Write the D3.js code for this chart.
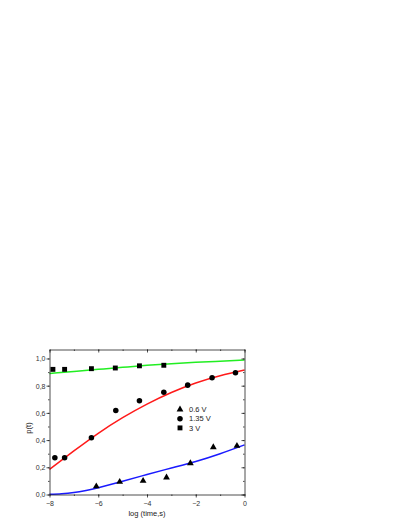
<!DOCTYPE html>
<html>
<head>
<meta charset="utf-8">
<script src="https://cdn.jsdelivr.net/npm/d3@7"></script>
<style>
  body { margin: 0; background: #fff; }
  svg text { font-family: "Liberation Sans", Arial, sans-serif; }
</style>
</head>
<body>
<svg width="407" height="527"></svg>
<script>
const svg = d3.select('svg');

// measured points
const x3V = [-7.86, -7.38, -6.28, -5.3, -4.31, -3.31];
const y3V = [0.92, 0.92, 0.925, 0.93, 0.946, 0.95];

const x135V = [-7.78, -7.38, -6.28, -5.28, -4.31, -3.31, -2.33, -1.33, -0.37];
const y135V = [0.27, 0.27, 0.417, 0.617, 0.69, 0.752, 0.804, 0.858, 0.895];

const x06V = [-6.08, -5.12, -4.16, -3.2, -2.22, -1.28, -0.31];
const y06V = [0.06, 0.093, 0.10, 0.125, 0.23, 0.348, 0.358];

// fit curves
const fitX = [-8, -7, -6, -5, -4, -3, -2, -1, 0];
const fitGreen = [0.89, 0.905, 0.92, 0.935, 0.95, 0.962, 0.972, 0.98, 0.988];
const fitRed = [0.185, 0.32, 0.45, 0.565, 0.665, 0.75, 0.82, 0.873, 0.915];
const fitBlueX = [-8, -7.5, -7, -6.5, -6, -5, -4, -3, -2, -1, 0];
const fitBlue = [0.002, 0.006, 0.015, 0.03, 0.05, 0.098, 0.147, 0.195, 0.243, 0.3, 0.365];

const legendLabels = ['0.6 V', '1.35 V', '3 V'];
const xTicks = [-8, -6, -4, -2, 0];
const yTicks = [0, 0.2, 0.4, 0.6, 0.8, 1.0];

const pL = 49.5, pR = 244.5, pT = 349.5, pB = 494.5;

const x = d3.scaleLinear().domain([-8, 0]).range([pL, pR]);
const y = d3.scaleLinear().domain([0, 1.066]).range([pB, pT]);

const fmt = d => d3.format('.1f')(d).replace('.', ',');

// fit lines
const line = d3.line().x(d => x(d[0])).y(d => y(d[1])).curve(d3.curveNatural);
const fits = [
    { xs: fitX, ys: fitGreen, color: '#22ee22' },
    { xs: fitX, ys: fitRed, color: '#ff1a1a' },
    { xs: fitBlueX, ys: fitBlue, color: '#1a1aff' }
];
svg.selectAll('path.fit').data(fits).enter().append('path')
    .attr('class', 'fit')
    .attr('d', f => line(f.xs.map((v, i) => [v, f.ys[i]])))
    .attr('fill', 'none')
    .attr('stroke', f => f.color)
    .attr('stroke-width', 1.5);

// axes
const minorX = d3.range(-8, 0.01, 1);
const minorY = d3.range(0, 1.01, 0.1);

const gx = svg.append('g').attr('transform', `translate(0,${pB})`)
    .call(d3.axisBottom(x).tickValues(xTicks).tickSize(3).tickSizeOuter(0).tickFormat(d3.format('d')));
svg.append('g').attr('transform', `translate(0,${pB})`)
    .call(d3.axisBottom(x).tickValues(minorX).tickSize(1.5).tickFormat('')).select('.domain').remove();
const gy = svg.append('g').attr('transform', `translate(${pL},0)`)
    .call(d3.axisLeft(y).tickValues(yTicks).tickSize(3).tickSizeOuter(0).tickFormat(fmt));
svg.append('g').attr('transform', `translate(${pL},0)`)
    .call(d3.axisLeft(y).tickValues(minorY).tickSize(1.5).tickFormat('')).select('.domain').remove();
svg.append('g').attr('transform', `translate(${pR},0)`)
    .call(d3.axisLeft(y).tickValues(yTicks).tickSize(3).tickSizeOuter(0).tickFormat(''));
svg.append('g').attr('transform', `translate(${pR},0)`)
    .call(d3.axisLeft(y).tickValues(minorY).tickSize(1.5).tickFormat('')).select('.domain').remove();
svg.append('g').attr('transform', `translate(0,${pT})`)
    .call(d3.axisBottom(x).tickValues(xTicks).tickSize(3).tickSizeOuter(0).tickFormat(''));
svg.append('g').attr('transform', `translate(0,${pT})`)
    .call(d3.axisBottom(x).tickValues(minorX).tickSize(1.5).tickFormat('')).select('.domain').remove();

svg.selectAll('.domain, .tick line').attr('stroke', '#222').attr('stroke-width', 0.8);
svg.selectAll('g').attr('font-family', '"Liberation Sans", Arial, sans-serif');
svg.selectAll('.tick text').attr('font-size', 7).attr('fill', '#333');
gx.selectAll('.tick text').attr('dy', '0.85em');
gy.selectAll('.tick text').attr('x', -4).attr('dy', '0.35em');

// markers
const sym = (type, size) => d3.symbol().type(type).size(size);
const series = [
    { xs: x3V, ys: y3V, shape: d3.symbolSquare, size: 24 },
    { xs: x135V, ys: y135V, shape: d3.symbolCircle, size: 24 },
    { xs: x06V, ys: y06V, shape: d3.symbolTriangle, size: 20 }
];
series.forEach(s => {
    svg.append('g').selectAll('path').data(s.xs.map((v, i) => [v, s.ys[i]])).enter()
        .append('path')
        .attr('transform', d => `translate(${x(d[0])},${y(d[1])})`)
        .attr('d', sym(s.shape, s.size))
        .attr('fill', '#000');
});

// legend
const legendShapes = [d3.symbolTriangle, d3.symbolCircle, d3.symbolSquare];
const legendSizes = [20, 24, 24];
const lg = svg.append('g');
legendLabels.forEach((lab, i) => {
    const ly = 409.5 + i * 9.2;
    lg.append('path').attr('transform', `translate(180,${ly})`)
        .attr('d', sym(legendShapes[i], legendSizes[i])).attr('fill', '#000');
    lg.append('text').attr('x', 189).attr('y', ly).attr('dy', '0.35em')
        .attr('font-size', 7.5).attr('fill', '#222').text(lab);
});

// axis titles
svg.append('text').attr('x', (pL + pR) / 2).attr('y', 516)
    .attr('text-anchor', 'middle').attr('font-size', 7.5).attr('fill', '#222')
    .text('log (time,s)');
svg.append('text').attr('transform', `translate(31,${(pT + pB) / 2 + 6}) rotate(-90)`)
    .attr('text-anchor', 'middle').attr('font-size', 7.5).attr('fill', '#222')
    .text('p(t)');
</script>
</body>
</html>
